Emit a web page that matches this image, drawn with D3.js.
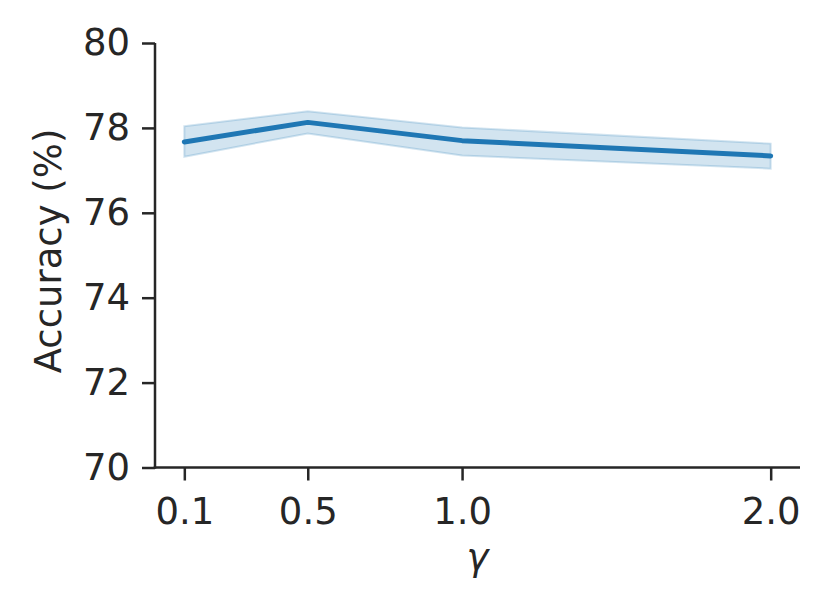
<!DOCTYPE html>
<html><head><meta charset="utf-8">
<script src="https://cdn.jsdelivr.net/npm/d3@7"></script>
<style>body{margin:0;background:#fff}svg{display:block}</style>
</head><body>
<script>
const gammas = [0.1, 0.5, 1.0, 2.0];
const meanAcc = [77.67, 78.13, 77.70, 77.34];
const lowerAcc = [77.32, 77.87, 77.35, 77.04];
const upperAcc = [78.04, 78.39, 78.01, 77.63];
const xTicks = [0.1, 0.5, 1.0, 2.0];
const xTickLabels = ["0.1", "0.5", "1.0", "2.0"];
const yTicks = [70, 72, 74, 76, 78, 80];

const W = 829, H = 613;
const m = {left: 155, right: 29, top: 43, bottom: 145.5};
const svg = d3.select("body").append("svg").attr("width", W).attr("height", H);
const x = d3.scaleLinear().domain([0.005, 2.095]).range([m.left, W - m.right]);
const y = d3.scaleLinear().domain([70, 80]).range([H - m.bottom, m.top]);
const color = "#1f77b4", ink = "#262626";
const font = "DejaVu Sans, sans-serif";
const fs = 37;

const data = gammas.map((g, i) => ({g, m: meanAcc[i], lo: lowerAcc[i], hi: upperAcc[i]}));

svg.append("path").datum(data)
  .attr("d", d3.area().x(d => x(d.g)).y0(d => y(d.lo)).y1(d => y(d.hi)))
  .attr("fill", color).attr("fill-opacity", 0.2)
  .attr("stroke", color).attr("stroke-opacity", 0.2).attr("stroke-width", 2);

svg.append("path").datum(data)
  .attr("d", d3.line().x(d => x(d.g)).y(d => y(d.m)))
  .attr("fill", "none").attr("stroke", color).attr("stroke-width", 5)
  .attr("stroke-linecap", "round").attr("stroke-linejoin", "round");

const xAxis = svg.append("g").attr("transform", `translate(0,${H - m.bottom})`)
  .call(d3.axisBottom(x).tickValues(xTicks).tickFormat((d, i) => xTickLabels[i]).tickSize(13).tickPadding(17).tickSizeOuter(0));
const yAxis = svg.append("g").attr("transform", `translate(${m.left},0)`)
  .call(d3.axisLeft(y).tickValues(yTicks).tickFormat(d3.format("d")).tickSize(13).tickPadding(12).tickSizeOuter(0));
[xAxis, yAxis].forEach(a => {
  a.selectAll("path.domain").attr("stroke", ink).attr("stroke-width", 2.5);
  a.selectAll(".tick line").attr("stroke", ink).attr("stroke-width", 2.5);
  a.selectAll(".tick text").attr("fill", ink).attr("font-size", fs).attr("font-family", font);
});
xAxis.select("path.domain").attr("d", `M${m.left - 1.25},0H${W - m.right}`);
yAxis.select("path.domain").attr("d", `M0,${m.top}V${H - m.bottom + 1.25}`);

svg.append("text").attr("x", (m.left + W - m.right) / 2).attr("y", 570)
  .attr("text-anchor", "middle").attr("font-size", fs).attr("font-style", "italic")
  .attr("font-family", font).attr("fill", ink).text("γ");
svg.append("text").attr("transform", `translate(61,251) rotate(-90)`)
  .attr("text-anchor", "middle").attr("font-size", fs)
  .attr("font-family", font).attr("fill", ink).text("Accuracy (%)");
</script>
</body></html>
